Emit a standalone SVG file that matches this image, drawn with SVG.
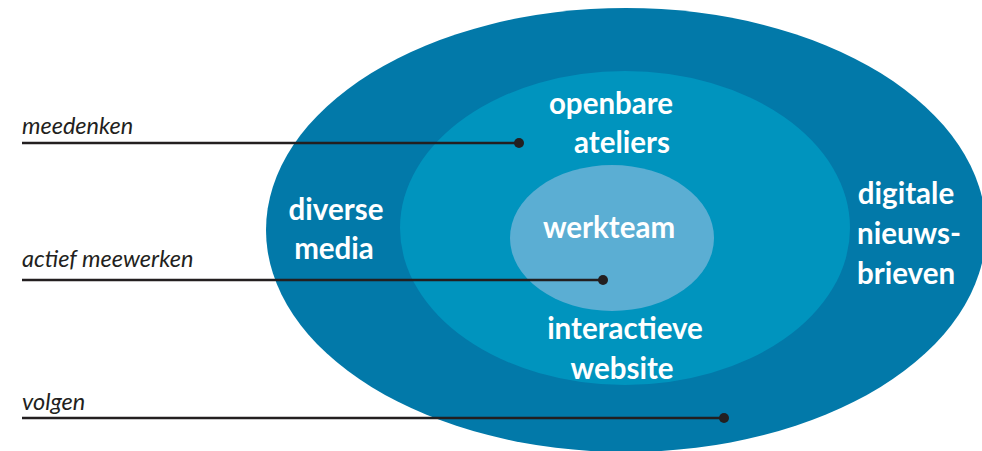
<svg xmlns="http://www.w3.org/2000/svg" width="982" height="451" viewBox="0 0 982 451">
<style>
.lbl{font-family:Lato,"Open Sans","Liberation Sans",sans-serif;font-style:italic;font-size:23.5px;fill:#231f20}
.nt{font-family:Lato,"Open Sans","Liberation Sans",sans-serif;font-weight:bold;font-size:29.5px;fill:#ffffff;text-anchor:middle}
.ln{stroke:#231f20;stroke-width:2.5;fill:none}
.dot{fill:#231f20}
</style>
<rect width="982" height="451" fill="#ffffff"/>
<g id="outer">
<ellipse cx="626" cy="230" rx="360" ry="222" fill="#0279a9"/>
<text class="nt" x="336" y="220">diverse</text>
<text class="nt" x="334" y="259">media</text>
<text class="nt" x="906" y="204">digitale</text>
<text class="nt" x="909" y="244">nieuws-</text>
<text class="nt" x="906" y="284">brieven</text>
</g>
<g id="middle">
<ellipse cx="625" cy="228" rx="225" ry="157" fill="#0094be"/>
<text class="nt" x="611" y="114">openbare</text>
<text class="nt" x="622" y="153">ateliers</text>
<text class="nt" x="625" y="339">interactieve</text>
<text class="nt" x="622" y="379">website</text>
</g>
<g id="inner">
<ellipse cx="612" cy="238" rx="102" ry="73" fill="#5baed3"/>
<text class="nt" x="609" y="238">werkteam</text>
</g>
<g id="connectors">
<line class="ln" x1="22" y1="143" x2="519" y2="143"/>
<circle class="dot" cx="519" cy="143" r="5"/>
<line class="ln" x1="22" y1="280" x2="603" y2="280"/>
<circle class="dot" cx="603" cy="280" r="5"/>
<line class="ln" x1="22" y1="418" x2="724" y2="418"/>
<circle class="dot" cx="724" cy="418" r="5"/>
</g>
<g id="labels">
<text class="lbl" x="22" y="134">meedenken</text>
<text class="lbl" x="22" y="267">actief meewerken</text>
<text class="lbl" x="22" y="410">volgen</text>
</g>
</svg>
